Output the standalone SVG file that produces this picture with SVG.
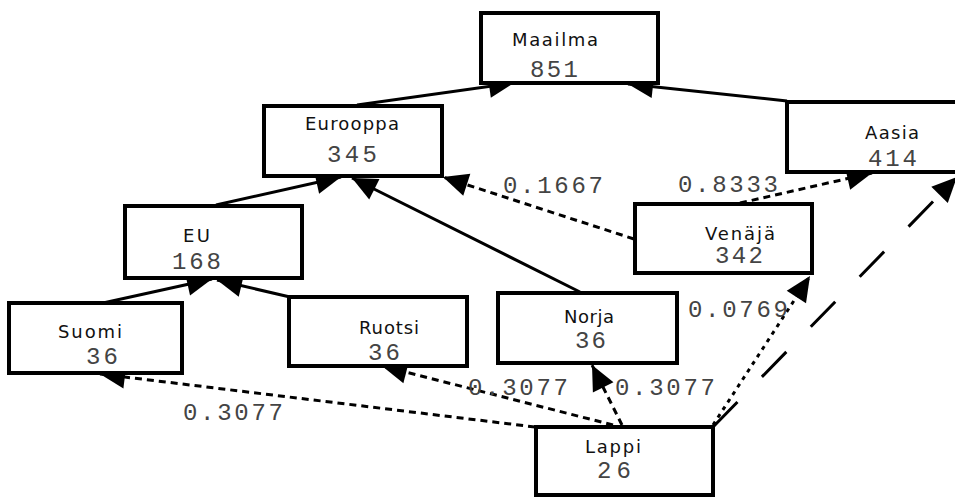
<svg xmlns="http://www.w3.org/2000/svg" width="955" height="497" viewBox="0 0 955 497">
  <style>
    .box { fill: #fff; stroke: #000; stroke-width: 4; }
    .name { font-family: "DejaVu Sans", "Liberation Sans", sans-serif; font-size: 18px; fill: #111; }
    .num { font-family: "Liberation Mono", "DejaVu Sans Mono", monospace; font-size: 24px; fill: #444; }
    .edge { fill: none; stroke: #000; stroke-width: 3; }
    .dash { stroke-dasharray: 7 5; }
    .dot { stroke-dasharray: 4 5; }
    .long { stroke-dasharray: 35 35; }
    .lbl { font-family: "Liberation Mono", "DejaVu Sans Mono", monospace; font-size: 24px; fill: #444; }
  </style>
  <defs>
    <marker id="arrow" markerUnits="userSpaceOnUse" markerWidth="26" markerHeight="24" refX="25" refY="11.5" orient="auto" overflow="visible">
      <path d="M0,0 L25,11.5 L0,23 z" fill="#000"/>
    </marker>
  </defs>
  <rect width="955" height="497" fill="#fff"/>

  <g id="connectors">
    <line class="edge" x1="357" y1="105" x2="514" y2="83" marker-end="url(#arrow)"/>
    <line class="edge" x1="787" y1="101" x2="628" y2="84" marker-end="url(#arrow)"/>
    <line class="edge" x1="216" y1="205" x2="341" y2="177" marker-end="url(#arrow)"/>
    <line class="edge" x1="580" y1="292" x2="352" y2="178" marker-end="url(#arrow)"/>
    <line class="edge dash" x1="634" y1="239" x2="443" y2="177" marker-end="url(#arrow)"/>
    <line class="edge dash" x1="740" y1="203" x2="872" y2="173" marker-end="url(#arrow)"/>
    <line class="edge" x1="103" y1="303" x2="212" y2="279" marker-end="url(#arrow)"/>
    <line class="edge" x1="290" y1="297" x2="217" y2="280" marker-end="url(#arrow)"/>
    <line class="edge dash" x1="535" y1="427" x2="100" y2="374" marker-end="url(#arrow)"/>
    <line class="edge dash" x1="613" y1="425" x2="382" y2="366" marker-end="url(#arrow)"/>
    <line class="edge dash" x1="622" y1="425" x2="592" y2="365" marker-end="url(#arrow)"/>
    <line class="edge dot" x1="713" y1="425" x2="810" y2="276" marker-end="url(#arrow)"/>
    <line class="edge long" x1="713" y1="427" x2="957" y2="177" marker-end="url(#arrow)"/>

    <text class="lbl" x="503" y="193" textLength="100">0.1667</text>
    <text class="lbl" x="678" y="192" textLength="100">0.8333</text>
    <text class="lbl" x="688" y="317" textLength="100">0.0769</text>
    <text class="lbl" x="468" y="395" textLength="100">0.3077</text>
    <text class="lbl" x="615" y="395" textLength="100">0.3077</text>
    <text class="lbl" x="183" y="420" textLength="100">0.3077</text>
  </g>

  <g id="maailma">
    <rect class="box" x="481" y="13" width="177" height="70"/>
    <text class="name" x="512" y="46" textLength="86">Maailma</text>
    <text class="num" x="530" y="77" textLength="48">851</text>
  </g>
  <g id="eurooppa">
    <rect class="box" x="264" y="106" width="178" height="70"/>
    <text class="name" x="305" y="130" textLength="94">Eurooppa</text>
    <text class="num" x="327" y="162" textLength="50">345</text>
  </g>
  <g id="aasia">
    <rect class="box" x="787" y="102" width="180" height="70"/>
    <text class="name" x="865" y="139" textLength="54">Aasia</text>
    <text class="num" x="868" y="166" textLength="49">414</text>
  </g>
  <g id="venaja">
    <rect class="box" x="635" y="204" width="177" height="69"/>
    <text class="name" x="705" y="240" textLength="70">Venäjä</text>
    <text class="num" x="715" y="263" textLength="48">342</text>
  </g>
  <g id="eu">
    <rect class="box" x="125" y="206" width="177" height="72"/>
    <text class="name" x="183" y="242" textLength="27">EU</text>
    <text class="num" x="172" y="269" textLength="49">168</text>
  </g>
  <g id="suomi">
    <rect class="box" x="9" y="303" width="173" height="70"/>
    <text class="name" x="58" y="338" textLength="64">Suomi</text>
    <text class="num" x="86" y="364" textLength="32">36</text>
  </g>
  <g id="ruotsi">
    <rect class="box" x="289" y="297" width="178" height="69"/>
    <text class="name" x="359" y="334" textLength="60">Ruotsi</text>
    <text class="num" x="368" y="360" textLength="32">36</text>
  </g>
  <g id="norja">
    <rect class="box" x="498" y="293" width="179" height="70"/>
    <text class="name" x="564" y="323" textLength="50">Norja</text>
    <text class="num" x="575" y="348" textLength="31">36</text>
  </g>
  <g id="lappi">
    <rect class="box" x="536" y="427" width="177" height="68"/>
    <text class="name" x="585" y="453" textLength="56">Lappi</text>
    <text class="num" x="597" y="478" textLength="34">26</text>
  </g>
</svg>
